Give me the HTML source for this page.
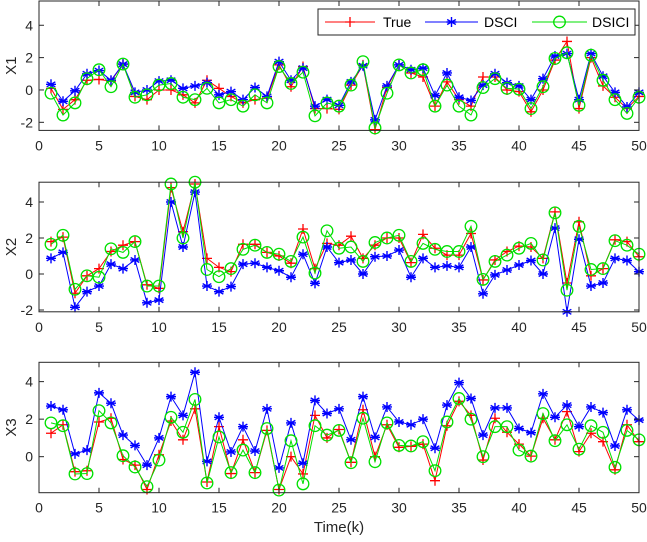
<!DOCTYPE html>
<html><head><meta charset="utf-8"><style>
html,body{margin:0;padding:0;background:#fff;}
svg{display:block;font-family:"Liberation Sans",Arial,sans-serif;}
</style></head><body>
<svg id="chart" width="647" height="542" viewBox="0 0 647 542" xmlns="http://www.w3.org/2000/svg"></svg>
<script>
const steps = Array.from({length:50},(_,i)=>i+1);
const x1True = [0.1,-1.2,-0.6,0.6,0.65,0.55,1.6,-0.4,-0.6,0,0,-0.3,-0.8,0.6,0.1,-0.4,-0.8,-0.6,-0.5,1.55,0.2,1.45,-1.15,-1.15,-1.2,0.3,1.55,-2.45,0.15,1.55,1.05,0.8,-1.0,0.5,-0.6,-1.0,0.8,0.8,0,-0.1,-1.35,0,1.85,3.0,-1.15,2.0,0.25,-0.45,-1.15,-0.4];
const x1Dsci = [0.35,-0.7,-0.05,1.0,1.2,0.6,1.6,-0.15,0,0.55,0.6,0.1,0.25,0.45,-0.3,-0.1,-0.6,0.15,-0.4,1.75,0.6,1.35,-1.0,-0.6,-0.95,0.5,1.5,-1.85,0.25,1.55,1.25,1.35,-0.35,1.05,-0.45,-0.65,0.3,1.0,0.45,0.25,-0.6,0.7,2.1,2.25,-0.6,2.25,0.85,-0.15,-1.05,-0.15];
const x1Dsici = [-0.2,-1.55,-0.8,0.7,1.25,0.2,1.6,-0.45,-0.3,0.3,0.4,-0.45,-0.6,0.1,-0.8,-0.6,-1.0,-0.3,-0.8,1.45,0.4,1.1,-1.6,-0.8,-1.0,0.3,1.75,-2.35,-0.2,1.55,1.05,1.25,-1.0,0.3,-1.0,-1.55,0.15,0.7,0.1,0.05,-1.15,0.2,1.95,2.3,-0.95,2.15,0.6,-0.6,-1.45,-0.45];
const x2True = [1.8,2.05,-1.07,-0.1,0.3,1.25,1.6,1.8,-0.6,-0.8,4.8,2.35,5.0,0.87,0.37,0.13,1.65,1.65,1.2,1.0,0.6,2.5,0.3,1.7,1.6,2.1,0.87,1.6,2.0,2.0,0.63,2.2,1.43,1.05,1.05,2.25,-0.33,0.78,1.25,1.55,1.5,0.87,3.45,-0.5,2.9,-0.1,0.3,1.9,1.8,0.96];
const x2Dsci = [0.87,1.2,-1.85,-0.98,-0.67,0.55,0.3,0.78,-1.6,-1.45,4.0,1.5,4.55,-0.67,-0.98,-0.7,0.55,0.6,0.37,0.18,-0.18,1.1,-0.52,1.5,0.63,0.78,0,0.96,1.0,1.33,-0.18,0.87,0.37,0.45,0.37,1.5,-1.1,-0.05,0.22,0.5,0.75,0,2.55,-2.1,1.93,-0.67,-0.5,0.87,0.75,0.13];
const x2Dsici = [1.65,2.15,-0.85,-0.1,-0.18,1.4,1.2,1.8,-0.67,-0.67,5.0,2.0,5.1,0.25,-0.15,0.3,1.37,1.6,1.2,1.1,0.7,2.05,0.05,2.4,1.43,1.5,0.7,1.75,2.0,2.15,0.7,1.7,1.37,1.25,1.25,2.65,-0.3,0.7,1.05,1.43,1.7,0.78,3.4,-0.9,2.65,0.25,0.3,1.85,1.6,1.1];
const x3True = [1.25,1.7,-0.8,-0.75,1.85,2.05,-0.15,-0.45,-1.75,0.1,1.9,0.9,2.55,-1.35,1.6,-0.9,0.9,-0.85,1.4,-1.75,0,-0.92,2.2,1.0,1.45,-0.3,2.5,0,1.7,0.5,0.55,0.67,-1.28,1.65,2.95,2.2,-0.18,2.05,1.3,0.67,0.03,2.05,0.9,2.4,0.27,1.25,0.8,-0.7,1.7,0.8];
const x3Dsci = [2.7,2.5,0.15,0.35,3.4,2.85,1.15,0.6,-0.45,1.0,3.2,2.2,4.5,-0.25,2.1,0.25,1.6,0.3,2.55,-0.6,1.8,-0.35,3.0,2.3,2.55,0.9,3.2,1.03,2.65,1.85,1.7,2.0,0.45,2.75,3.95,3.1,1.15,2.6,2.6,1.5,1.28,3.35,2.1,2.75,1.6,2.65,2.35,0.57,2.5,1.95];
const x3Dsici = [1.8,1.65,-0.92,-0.9,2.45,1.8,0.05,-0.55,-1.6,-0.18,2.1,1.3,3.05,-1.4,1.05,-0.85,0.35,-0.85,1.5,-1.78,0.85,-1.45,1.65,1.15,1.4,-0.32,2.05,-0.27,1.8,0.6,0.57,0.8,-0.75,1.85,3.1,2.0,0,1.6,1.6,0.35,0.03,2.3,0.85,1.7,0.4,1.65,1.3,-0.57,1.4,0.9];
const xTicks = [0,5,10,15,20,25,30,35,40,45,50];
const y1Ticks = [-2,0,2,4];
const y2Ticks = [-2,0,2,4];
const y3Ticks = [0,2,4];

const NS = "http://www.w3.org/2000/svg";
const svg = document.getElementById('chart');
function mk(tag, attrs, parent){ const e=document.createElementNS(NS,tag); for(const k in attrs) e.setAttribute(k,attrs[k]); (parent||svg).appendChild(e); return e; }
const X0=39, X1=639;
const xs = v => X0 + (v-0)/(50-0)*(X1-X0);

const panels = [
  {name:'x1', label:'X1', top:1, bottom:130.4, ymin:-2.5, ymax:5.5, ticks:y1Ticks, data:[x1True,x1Dsci,x1Dsici]},
  {name:'x2', label:'X2', top:182.2, bottom:311.8, ymin:-2.1, ymax:5.1, ticks:y2Ticks, data:[x2True,x2Dsci,x2Dsici]},
  {name:'x3', label:'X3', top:362.3, bottom:492.7, ymin:-1.92, ymax:5.03, ticks:y3Ticks, data:[x3True,x3Dsci,x3Dsici]},
];
const colors = ['#ff0000','#0000ff','#00e000'];
const seriesNames = ['true','dsci','dsici'];

function marker(type, x, y, color, g){
  if(type===0){
    mk('path',{d:`M${x-5} ${y}H${x+5}M${x} ${y-5}V${y+5}`,stroke:color,'stroke-width':1.3,fill:'none'},g);
  } else if(type===1){
    let d='';
    for(let a=0;a<3;a++){ const t=a*Math.PI/3+Math.PI/2; const dx=5*Math.cos(t), dy=5*Math.sin(t); d+=`M${x-dx} ${y-dy}L${x+dx} ${y+dy}`; }
    d+=`M${x-5} ${y}H${x+5}`;
    mk('path',{d:d,stroke:color,'stroke-width':1.4,fill:'none'},g);
  } else {
    mk('circle',{cx:x,cy:y,r:5.8,stroke:color,'stroke-width':1.3,fill:'none'},g);
  }
}

panels.forEach(p=>{
  const ys = v => p.bottom - (v-p.ymin)/(p.ymax-p.ymin)*(p.bottom-p.top);
  const g = mk('g',{});
  
  
  const plot = mk('g',{},g);
  p.data.forEach((arr,si)=>{
    const sg = mk('g',{},plot);
    
    
    const pts = arr.map((v,i)=>`${xs(steps[i]).toFixed(2)},${ys(v).toFixed(2)}`).join(' ');
    mk('polyline',{points:pts,fill:'none',stroke:colors[si],'stroke-width':1},sg);
    arr.forEach((v,i)=>marker(si, xs(steps[i]), ys(v), colors[si], sg));
  });
  const ax = mk('g',{},g);
  
  
  mk('rect',{x:X0,y:p.top,width:X1-X0,height:p.bottom-p.top,fill:'none',stroke:'#262626','stroke-width':1},ax);
  xTicks.forEach(t=>{
    const x=xs(t);
    mk('line',{x1:x,x2:x,y1:p.bottom,y2:p.bottom-5,stroke:'#262626','stroke-width':1},ax);
    mk('line',{x1:x,x2:x,y1:p.top,y2:p.top+5,stroke:'#262626','stroke-width':1},ax);
    const tl = mk('text',{x:x,y:p.bottom+20,'text-anchor':'middle','font-size':14,fill:'#262626'},ax);
    tl.textContent=t;
    
    
  });
  p.ticks.forEach(t=>{
    const y=ys(t);
    mk('line',{x1:X0,x2:X0+5,y1:y,y2:y,stroke:'#262626','stroke-width':1},ax);
    mk('line',{x1:X1,x2:X1-5,y1:y,y2:y,stroke:'#262626','stroke-width':1},ax);
    const tl = mk('text',{x:X0-6,y:y+5,'text-anchor':'end','font-size':14,fill:'#262626'},ax);
    tl.textContent=t;
    
    
  });
  const cy=(p.top+p.bottom)/2;
  const yl = mk('text',{x:0,y:0,transform:`translate(16,${cy}) rotate(-90)`,'text-anchor':'middle','font-size':15,fill:'#262626'},g);
  yl.textContent=p.label;
  
  
});

const xt = mk('text',{x:339,y:532,'text-anchor':'middle','font-size':15,fill:'#262626'});
xt.textContent='Time(k)';



const lg = mk('g',{});


mk('rect',{x:318,y:9,width:317,height:26,fill:'#fff',stroke:'#262626','stroke-width':1},lg);
const legendItems=[{l:'True',x1:325,x2:375,tx:383},{l:'DSCI',x1:425,x2:478,tx:484},{l:'DSICI',x1:532,x2:587,tx:592}];
legendItems.forEach((it,i)=>{
  const e = mk('g',{},lg);
  
  
  mk('line',{x1:it.x1,x2:it.x2,y1:22,y2:22,stroke:colors[i],'stroke-width':1},e);
  marker(i,(it.x1+it.x2)/2,22,colors[i],e);
  const t=mk('text',{x:it.tx,y:27,'font-size':14,fill:'#000'},e);
  t.textContent=it.l;
});
</script>
</body></html>
